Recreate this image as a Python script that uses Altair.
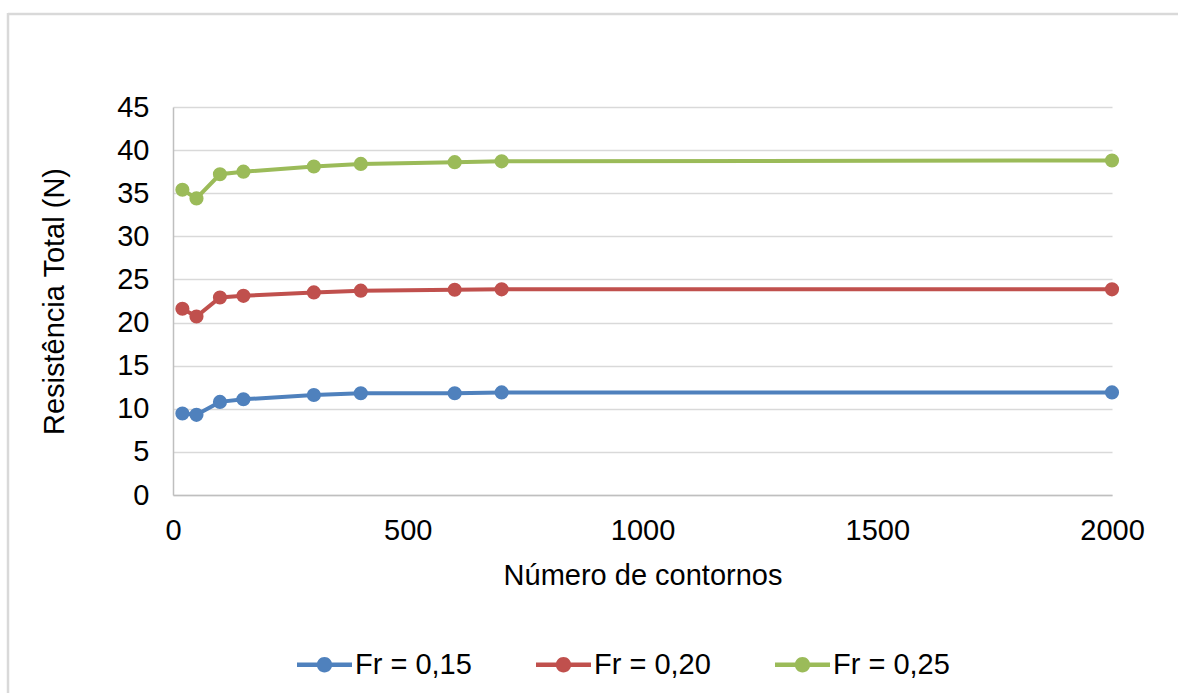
import altair as alt
import pandas as pd

contornos = [20, 50, 100, 150, 300, 400, 600, 700, 2000]
fr_015 = [9.45, 9.3, 10.8, 11.1, 11.6, 11.8, 11.8, 11.9, 11.9]
fr_020 = [21.6, 20.7, 22.9, 23.1, 23.5, 23.7, 23.8, 23.85, 23.85]
fr_025 = [35.4, 34.4, 37.2, 37.5, 38.1, 38.4, 38.6, 38.7, 38.8]
series_names = ["Fr = 0,15", "Fr = 0,20", "Fr = 0,25"]
series_colors = ["#4f81bd", "#c0504d", "#9bbb59"]
x_ticks = [0, 500, 1000, 1500, 2000]
y_ticks = [0, 5, 10, 15, 20, 25, 30, 35, 40, 45]

rows = []
for name, vals in zip(series_names, [fr_015, fr_020, fr_025]):
    for xv, yv in zip(contornos, vals):
        rows.append({"x": xv, "y": yv, "serie": name})
df = pd.DataFrame(rows)

FONT = "Liberation Sans"
FS = 29
W, H = 939, 388

sym = ("M-1,-0.08 L1,-0.08 L1,0.08 L-1,0.08 Z "
       "M0.28,0 A0.28,0.28 0 1,1 -0.28,0 A0.28,0.28 0 1,1 0.28,0 Z")

color = alt.Color(
    "serie:N",
    scale=alt.Scale(domain=series_names, range=series_colors),
    legend=alt.Legend(
        title=None, orient="none", direction="horizontal",
        legendX=124, legendY=530,
        symbolType=sym, symbolSize=3025, symbolStrokeWidth=0,
        labelFont=FONT, labelFontSize=FS, labelColor="#000000",
        labelOffset=3, columnPadding=64,
    ),
)

x = alt.X("x:Q", title="Número de contornos",
          scale=alt.Scale(domain=[0, 2000], nice=False, zero=True),
          axis=alt.Axis(values=x_ticks, grid=False, ticks=False, labelFlush=False,
                        labelPadding=21, titlePadding=16, format="d"))
y = alt.Y("y:Q", title="Resistência Total (N)",
          scale=alt.Scale(domain=[0, 45], nice=False),
          axis=alt.Axis(values=y_ticks, grid=True, ticks=False,
                        labelPadding=24, titlePadding=47))

lines = alt.Chart(df).mark_line(strokeWidth=4).encode(x=x, y=y, color=color)
pts = alt.Chart(df).mark_circle(size=200, opacity=1).encode(x=x, y=y, color=color)

border_df = pd.DataFrame({"a": [0]})
top_border = alt.Chart(border_df).mark_rule(color="#d9d9d9", strokeWidth=2.5).encode(
    x=alt.value(-165), x2=alt.value(1010), y=alt.value(-93))
left_border = alt.Chart(border_df).mark_rule(color="#d9d9d9", strokeWidth=2.5).encode(
    x=alt.value(-165), y=alt.value(-94), y2=alt.value(600))

chart = alt.layer(top_border, left_border, lines, pts).properties(
    width=W, height=H,
    autosize="none",
    padding={"left": 173, "top": 107, "right": 66, "bottom": 198},
).configure(background="white").configure_view(stroke=None).configure_axis(
    labelFont=FONT, titleFont=FONT, labelFontSize=FS, titleFontSize=FS,
    labelColor="#000000", titleColor="#000000", titleFontWeight="normal",
    domainColor="#bfbfbf", domainWidth=1.5, gridColor="#d9d9d9", gridWidth=1.5,
)

chart.save("out.html", embed_options={"renderer": "svg", "actions": False})
